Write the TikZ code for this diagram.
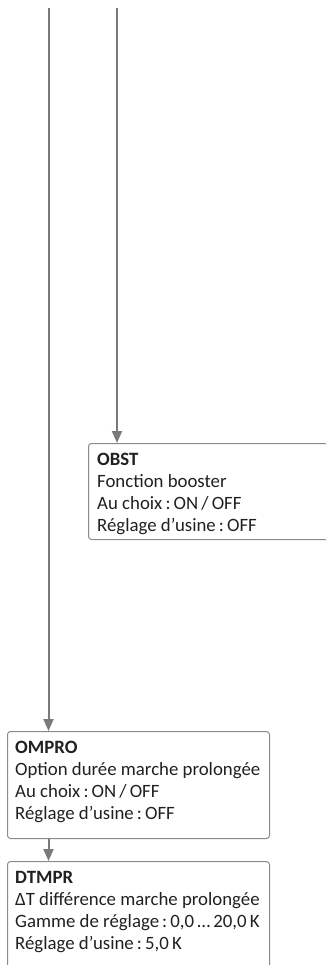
\documentclass[tikz,border=0pt]{standalone}
\usepackage{fontspec}
\setmainfont{Carlito}
\usetikzlibrary{arrows.meta}
\definecolor{linegray}{HTML}{7A7A7A}
\definecolor{boxgray}{HTML}{8A8A8A}
\definecolor{txtcol}{HTML}{231F20}
\tikzset{
  conn/.style={draw=linegray, line width=2pt, -{Triangle[width=10pt,length=12pt]}},
  pbox/.style={draw=boxgray, line width=1pt, rounded corners=3pt, rectangle, inner sep=0pt, anchor=north west},
  ptext/.style={anchor=base west, inner sep=0pt, align=left, text=txtcol, font=\fontsize{18.8}{22}\selectfont},
}
\begin{document}
\begin{tikzpicture}[x=1pt,y=-1pt]
\useasboundingbox (0,0) rectangle (326,965);
\clip (0,0) rectangle (326,965);
% boxes
\node[pbox, minimum width=262pt, minimum height=96pt] (obst) at (88,443) {};
\node[pbox, minimum width=262pt, minimum height=107pt] (ompro) at (7,731) {};
\node[pbox, minimum width=262pt, minimum height=130pt] (dtmpr) at (7,861) {};
% texts (base anchor = baseline of the last line)
\node[ptext] (obsttxt) at (97,531) {\textbf{OBST}\\Fonction booster\\Au choix\,:\,ON\,/\,OFF\\Réglage d’usine\,:\,OFF};
\node[ptext] (omprotxt) at (15,819) {\textbf{OMPRO}\\Option durée marche prolongée\\Au choix\,:\,ON\,/\,OFF\\Réglage d’usine\,:\,OFF};
\node[ptext] (dtmprtxt) at (15,949) {\textbf{DTMPR}\\ΔT différence marche prolongée\\Gamme de réglage\,:\,0,0\,…\,20,0\,K\\Réglage d’usine\,:\,5,0\,K};
% connectors
\coordinate (s1) at (48.5,8);
\coordinate (s2) at (117,8);
\draw[conn] (s1) -- (s1 |- ompro.north);
\draw[conn] (s2) -- (s2 |- obst.north);
\draw[conn] (ompro.south -| s1) -- (dtmpr.north -| s1);
\end{tikzpicture}
\end{document}
